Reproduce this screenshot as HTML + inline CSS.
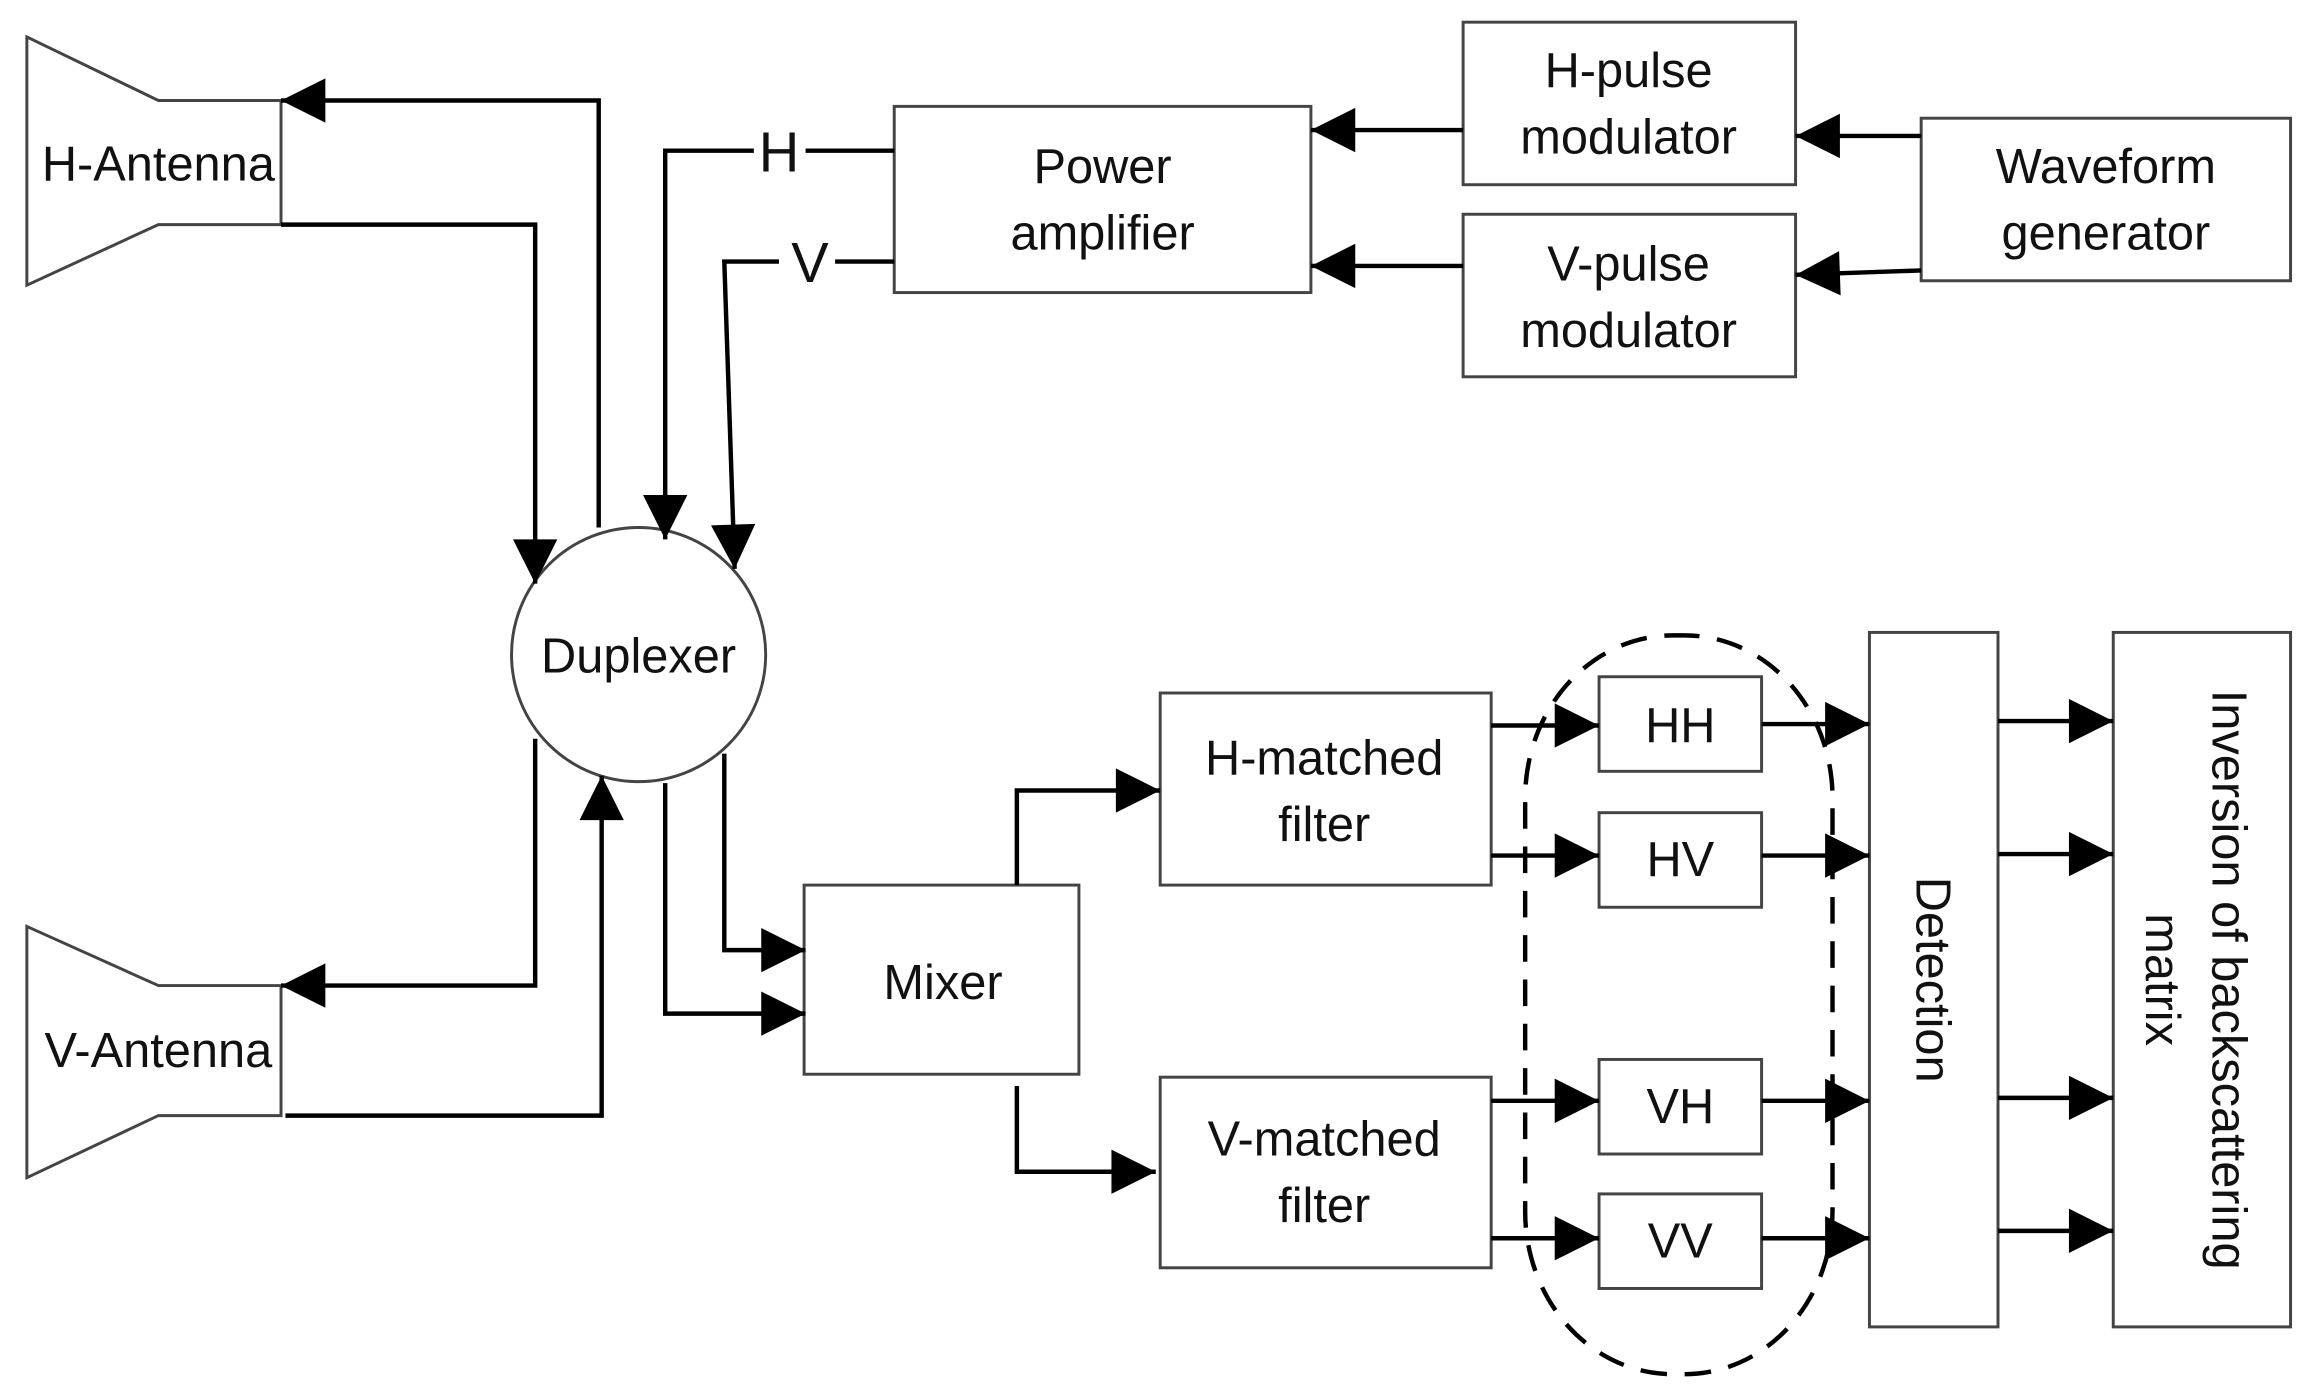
<!DOCTYPE html>
<html><head><meta charset="utf-8"><style>html,body{margin:0;padding:0;background:#fff}svg{display:block}</style></head>
<body>
<svg width="2313" height="1386" viewBox="0 0 1565 938" xmlns="http://www.w3.org/2000/svg" font-family="Liberation Sans, DejaVu Sans, sans-serif">
<defs>
<marker id="a" markerUnits="userSpaceOnUse" markerWidth="34" markerHeight="34" viewBox="0 0 34 34" refX="32" refY="17" orient="auto">
<polygon points="2,2 32,17 2,32" fill="#000"/></marker>
</defs>
<g fill="#fff" stroke="#444" stroke-width="2">
<polygon points="18,25 107,68 190,68 190,152 107,152 18,193"/>
<polygon points="18,627 107,667 190,667 190,755 107,755 18,797"/>
<circle cx="432" cy="443" r="86"/>
<rect x="605" y="72" width="282" height="126"/>
<rect x="990" y="15" width="225" height="110"/>
<rect x="990" y="145" width="225" height="110"/>
<rect x="1300" y="80" width="250" height="110"/>
<rect x="544" y="599" width="186" height="128"/>
<rect x="785" y="469" width="224" height="130"/>
<rect x="785" y="729" width="224" height="129"/>
<rect x="1082" y="458" width="110" height="64"/>
<rect x="1082" y="550" width="110" height="64"/>
<rect x="1082" y="717" width="110" height="64"/>
<rect x="1082" y="808" width="110" height="64"/>
<rect x="1265" y="428" width="87" height="470"/>
<rect x="1430" y="428" width="120" height="470"/>
</g>
<rect x="1032" y="430" width="208" height="500" rx="100" ry="110" fill="none" stroke="#000" stroke-width="3" stroke-dasharray="18,12"/>
<g fill="none" stroke="#000" stroke-width="3" marker-end="url(#a)">
<polyline points="405,357 405,68 190,68"/>
<polyline points="190,152 362,152 362,395"/>
<polyline points="510,102 450,102 450,365"/>
<polyline points="527,177 490,177 497,385"/>
<polyline points="362,500 362,667 190,667"/>
<polyline points="193,755 407,755 407,525"/>
<polyline points="450,530 450,686 545,686"/>
<polyline points="490,510 490,643 545,643"/>
<polyline points="688,599 688,535 785,535"/>
<polyline points="688,735 688,793 782,793"/>
<line x1="990" y1="88" x2="887" y2="88"/>
<line x1="990" y1="180" x2="887" y2="180"/>
<line x1="1300" y1="92" x2="1215" y2="92"/>
<line x1="1300" y1="183" x2="1215" y2="186"/>
<line x1="1009" y1="491" x2="1082" y2="491"/>
<line x1="1009" y1="579" x2="1082" y2="579"/>
<line x1="1009" y1="745" x2="1082" y2="745"/>
<line x1="1009" y1="838" x2="1082" y2="838"/>
<line x1="1192" y1="490" x2="1265" y2="490"/>
<line x1="1192" y1="579" x2="1265" y2="579"/>
<line x1="1192" y1="745" x2="1265" y2="745"/>
<line x1="1192" y1="838" x2="1265" y2="838"/>
<line x1="1352" y1="488" x2="1430" y2="488"/>
<line x1="1352" y1="578" x2="1430" y2="578"/>
<line x1="1352" y1="743" x2="1430" y2="743"/>
<line x1="1352" y1="833" x2="1430" y2="833"/>
</g>
<g stroke="#000" stroke-width="3">
<line x1="605" y1="102" x2="545" y2="102"/>
<line x1="605" y1="177" x2="565" y2="177"/>
</g>
<g font-size="33" fill="#111" text-anchor="middle">
<text x="107" y="122">H-Antenna</text>
<text x="107" y="722">V-Antenna</text>
<text x="432" y="455">Duplexer</text>
<text x="746" y="124">Power</text>
<text x="746" y="169">amplifier</text>
<text x="1102" y="59">H-pulse</text>
<text x="1102" y="104">modulator</text>
<text x="1102" y="190">V-pulse</text>
<text x="1102" y="235">modulator</text>
<text x="1425" y="124">Waveform</text>
<text x="1425" y="169">generator</text>
<text x="638" y="676">Mixer</text>
<text x="896" y="524">H-matched</text>
<text x="896" y="569">filter</text>
<text x="896" y="782">V-matched</text>
<text x="896" y="827">filter</text>
<text x="1137" y="502">HH</text>
<text x="1137" y="593">HV</text>
<text x="1137" y="760">VH</text>
<text x="1137" y="851">VV</text>
<text font-size="38" x="527" y="116">H</text>
<text font-size="38" x="548" y="191">V</text>
<text transform="translate(1297,663) rotate(90)">Detection</text>
<text transform="translate(1497,663) rotate(90)">Inversion of backscattering</text>
<text transform="translate(1452,663) rotate(90)">matrix</text>
</g>
</svg>
</body></html>
